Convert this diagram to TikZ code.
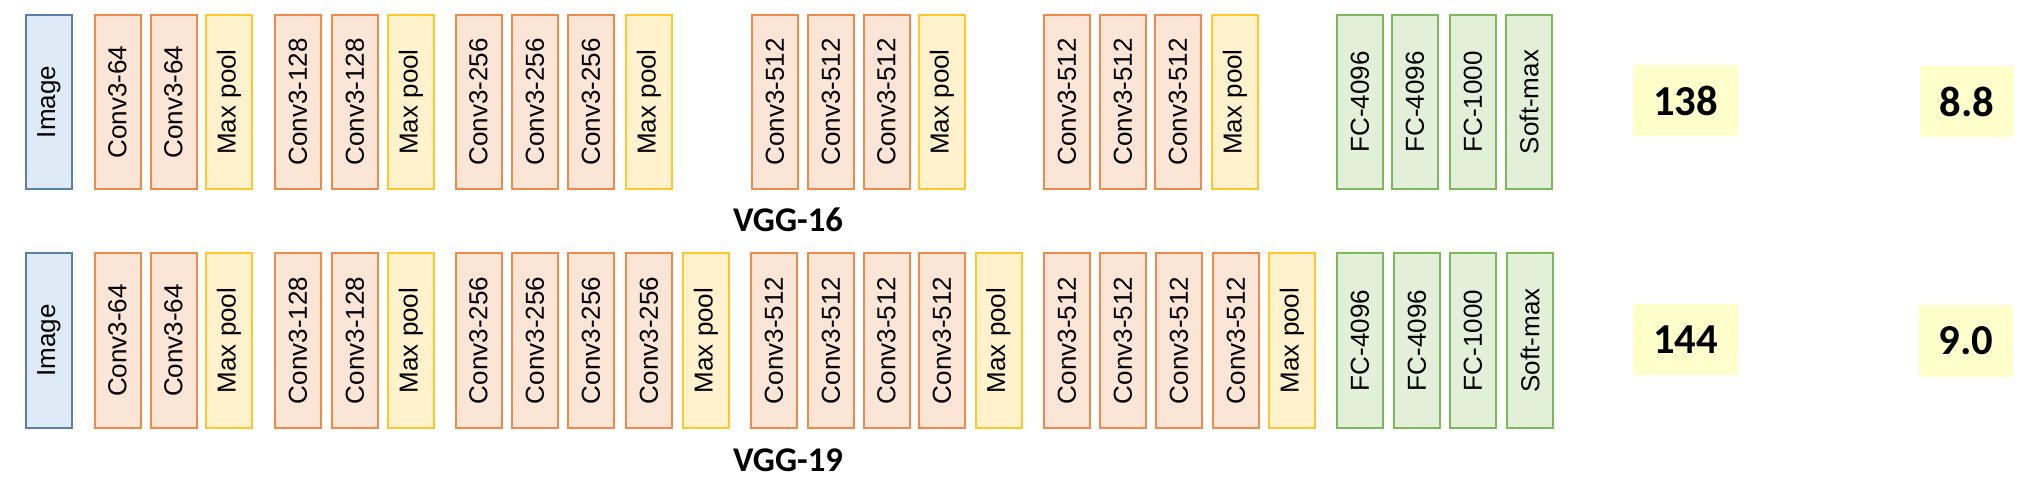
\documentclass[tikz,border=0pt]{standalone}
\usepackage{fontspec}
\setmainfont{Liberation Sans}
\newfontfamily\calibri{Carlito}
\definecolor{imgfill}{HTML}{DEEBF7}
\definecolor{imgline}{HTML}{5A7FA8}
\definecolor{convfill}{HTML}{FBE5D6}
\definecolor{convline}{HTML}{F08A4B}
\definecolor{poolfill}{HTML}{FFF2CC}
\definecolor{poolline}{HTML}{FFC729}
\definecolor{fcfill}{HTML}{E2F0D9}
\definecolor{fcline}{HTML}{7DB85A}
\definecolor{numfill}{HTML}{FFFFCC}
\tikzset{
  layer/.style={rotate=90, minimum width=131pt, minimum height=34.5pt, inner sep=0pt,
    line width=1.5pt, font=\fontsize{19.5}{20}\selectfont},
  img/.style={layer, draw=imgline, fill=imgfill},
  conv/.style={layer, draw=convline, fill=convfill},
  pool/.style={layer, draw=poolline, fill=poolfill},
  fc/.style={layer, draw=fcline, fill=fcfill},
  result/.style={fill=numfill, minimum height=53.5pt, inner sep=0pt, font=\calibri\bfseries\fontsize{32}{34}\selectfont},
  netname/.style={font=\calibri\bfseries\fontsize{26}{28}\selectfont}
}
\begin{document}
\begin{tikzpicture}[x=0.75pt, y=-0.75pt]
        \useasboundingbox (0, 0) rectangle (2034, 498);

        % VGG-16
        \foreach \x/\s/\t [count=\i] in {49/img/Image, 117.5/conv/Conv3-64, 173.5/conv/Conv3-64, 229/pool/Max pool,
            298/conv/Conv3-128, 355/conv/Conv3-128, 411/pool/Max pool,
            478.5/conv/Conv3-256, 535/conv/Conv3-256, 591/conv/Conv3-256, 649/pool/Max pool,
            775/conv/Conv3-512, 831/conv/Conv3-512, 886.5/conv/Conv3-512, 942/pool/Max pool,
            1067/conv/Conv3-512, 1123/conv/Conv3-512, 1178/conv/Conv3-512, 1235/pool/Max pool,
            1360/fc/FC-4096, 1415/fc/FC-4096, 1473/fc/FC-1000, 1529/fc/Soft-max}
          \node[\s] (top\i) at (\x, 102) {\t};
        \node[netname] (vgg16) at (788, 220) {VGG-16};
        \node[result, minimum width=79pt] (params16) at (1685.5, 100.5) {138};
        \node[result, minimum width=70.5pt] (err16) at (1967, 101.5) {8.8};

        % VGG-19
        \foreach \x/\s/\t [count=\i] in {49/img/Image, 117.5/conv/Conv3-64, 173.5/conv/Conv3-64, 229/pool/Max pool,
            298/conv/Conv3-128, 355/conv/Conv3-128, 411/pool/Max pool,
            478.5/conv/Conv3-256, 535/conv/Conv3-256, 591/conv/Conv3-256, 649/conv/Conv3-256, 706/pool/Max pool,
            774/conv/Conv3-512, 831/conv/Conv3-512, 886.5/conv/Conv3-512, 942/conv/Conv3-512, 998.5/pool/Max pool,
            1067/conv/Conv3-512, 1123/conv/Conv3-512, 1179/conv/Conv3-512, 1236/conv/Conv3-512, 1292/pool/Max pool,
            1360/fc/FC-4096, 1417/fc/FC-4096, 1473/fc/FC-1000, 1530/fc/Soft-max}
          \node[\s] (bot\i) at (\x, 340.5) {\t};
        \node[netname] (vgg19) at (788, 460) {VGG-19};
        \node[result, minimum width=79pt] (params19) at (1685.5, 339.5) {144};
        \node[result, minimum width=70.5pt] (err19) at (1966, 341) {9.0};
      \end{tikzpicture}
\end{document}
